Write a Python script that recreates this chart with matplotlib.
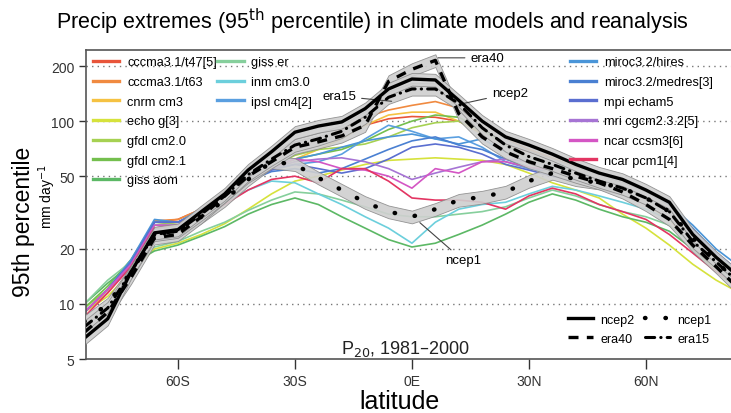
import numpy as np
import matplotlib
matplotlib.use("Agg")
import matplotlib.pyplot as plt
from matplotlib.lines import Line2D

plt.rcParams['font.family'] = ['Liberation Sans', 'DejaVu Sans']

# latitude grid (degrees, south negative)
lat = [-84, -78, -72, -66, -60, -54, -48, -42, -36, -30, -24, -18, -12, -6, 0,
       6, 12, 18, 24, 30, 36, 42, 48, 54, 60, 66, 72, 78, 84]

# reanalyses, 95th percentile precip (mm/day)
ncep2 = [6.5, 8.3, 15, 24.5, 25.5, 32, 40, 54, 68, 87, 94, 99, 117, 150, 170,
         168, 130, 100, 82, 74, 66, 58, 52, 48, 42, 36, 24, 18, 14]
ncep1 = [8, 10, 15, 24, 25, 30, 37, 48, 60, 58, 49, 42, 36, 32, 30,
         33, 37, 38.5, 41, 47, 52, 48, 46, 43, 38, 32, 23, 17, 13]
era40 = [7, 9, 14, 23, 24, 30, 39, 50, 60, 72, 77, 83, 95, 165, 192,
         215, 110, 82, 68, 60, 55, 50, 46, 41, 35, 29, 21, 16, 12]
era15 = [7.5, 9.5, 15, 24, 25, 31, 39, 51, 62, 74, 80, 88, 105, 135, 150,
         150, 125, 92, 74, 64, 58, 52, 47, 43, 38, 32, 22, 17, 13]

# models
cccma_t47 = [9, 12, 17, 28, 29, 33, 40, 50, 60, 70, 78, 85, 95, 103, 106,
             105, 100, 88, 75, 68, 62, 55, 48, 43, 38, 32, 23, 17, 13]
cccma_t63 = [9, 12, 17, 28.5, 29, 33, 41, 51, 61, 72, 80, 90, 105, 115, 122,
             128, 118, 95, 80, 70, 63, 56, 49, 44, 39, 33, 24, 18, 14]
cnrm = [9, 11.5, 16.5, 27, 28, 32, 38, 47, 56, 62, 70, 80, 95, 108, 112,
        112, 100, 85, 72, 62, 55, 50, 45, 40, 35, 29, 21, 15, 12]
echo_g = [9, 11, 15, 20, 21.5, 24, 27.5, 33, 40, 47, 50, 54, 58, 61, 62,
          63, 62, 61, 58, 52, 46, 42, 38, 31, 26, 21, 16.5, 13.5, 11.5]
gfdl20 = [9.5, 12, 17, 27, 28, 32, 38, 47, 56, 65, 70, 72, 75, 82, 92,
          98, 100, 88, 72, 62, 56, 51, 46, 41, 36, 31, 23, 17, 14]
gfdl21 = [9.5, 12.5, 17.5, 28, 28, 32, 38, 46, 55, 62, 66, 70, 78, 90, 100,
          108, 105, 90, 74, 64, 58, 52, 47, 42, 37, 32, 24, 18, 15]
giss_aom = [10, 13, 16.5, 19.5, 21, 23.5, 26.5, 31, 35, 38, 35, 30, 26, 22.5, 20.5,
            21.5, 24, 27, 31, 36, 40, 37, 33, 30, 28, 25, 20, 15, 12]
giss_er = [10, 13.5, 17, 20.5, 22, 25, 28, 32.5, 37, 41, 40, 37, 34, 31, 30,
           30, 31, 32, 34, 38, 42, 39, 35, 32, 30, 27, 21, 16, 13]
inm = [9, 12, 17, 27, 27, 31, 36, 42, 47, 46, 40, 35, 30, 26, 21.5,
       28, 33, 35, 36, 40, 44, 42, 39, 36, 33, 29, 23, 17, 14]
ipsl = [9, 12, 17, 28, 28, 32, 39, 47, 55, 58, 60, 66, 80, 95, 88,
        80, 82, 72, 60, 55, 52, 50, 46, 42, 38, 33, 25, 19, 15]
miroc_hi = [9, 12, 17.5, 29, 28, 33, 40, 49, 57, 62, 66, 72, 78, 82, 85,
            80, 75, 80, 68, 60, 56, 52, 48, 44, 40, 35, 27, 20, 16]
miroc_med = [9, 12, 17, 28, 28, 32, 39, 47, 53, 55, 52, 55, 62, 70, 78,
             82, 74, 70, 62, 56, 52, 49, 46, 42, 38, 34, 26, 19, 15]
mpi = [9, 12, 17, 28, 28, 32, 39, 47, 54, 58, 55, 52, 55, 62, 72,
       75, 72, 66, 58, 54, 50, 47, 44, 41, 37, 33, 25, 19, 15]
mri = [9, 12, 16, 26, 27, 31, 38, 46, 55, 60, 62, 63, 60, 55, 48,
       52, 56, 60, 62, 60, 55, 50, 45, 41, 37, 32, 24, 18, 14]
ccsm3 = [9, 12, 16.5, 27, 27, 31, 38, 47, 56, 62, 60, 55, 54, 50, 43,
         55, 52, 60, 60, 56, 54, 50, 46, 42, 37, 31, 23, 17, 14]
pcm1 = [8.5, 11.5, 16, 26, 27, 30, 35, 42, 48, 50, 46, 55, 55, 47, 38,
        37, 37, 36, 33, 39, 43, 40, 35, 32, 29, 24, 19, 15, 12.5]

models = [
    ("cccma3.1/t47[5]", cccma_t47, "#e8553a"),
    ("cccma3.1/t63", cccma_t63, "#f08a40"),
    ("cnrm cm3", cnrm, "#f5c242"),
    ("echo g[3]", echo_g, "#d6e23c"),
    ("gfdl cm2.0", gfdl20, "#a6d152"),
    ("gfdl cm2.1", gfdl21, "#74bf4e"),
    ("giss aom", giss_aom, "#5cb865"),
    ("giss er", giss_er, "#86cf9c"),
    ("inm cm3.0", inm, "#6ccfdc"),
    ("ipsl cm4[2]", ipsl, "#5a9fe0"),
    ("miroc3.2/hires", miroc_hi, "#4a95d8"),
    ("miroc3.2/medres[3]", miroc_med, "#4a80d2"),
    ("mpi echam5", mpi, "#5a6ed0"),
    ("mri cgcm2.3.2[5]", mri, "#a674d4"),
    ("ncar ccsm3[6]", ccsm3, "#d456c4"),
    ("ncar pcm1[4]", pcm1, "#e33562"),
]

fig = plt.figure(figsize=(7.31, 4.14), dpi=100)
ax = fig.add_axes([0.118, 0.1304, 0.8937, 0.7464])

for name, vals, col in models:
    ax.plot(lat, vals, color=col, lw=1.2, zorder=2)

# grey spread band around each reanalysis
for vals in (ncep1, era40, era15, ncep2):
    v = np.array(vals)
    ax.fill_between(lat, v * 0.92, v * 1.08, facecolor="#cfcfcf", edgecolor="#8a8a8a",
                    lw=0.6, alpha=0.9, zorder=3)

rea_styles = {
    "ncep2": dict(ls="-", lw=2.4),
    "era40": dict(ls=(0, (3, 2.5)), lw=2.4),
    "ncep1": dict(ls=(0, (0.1, 4.5)), lw=3.2, dash_capstyle="round"),
    "era15": dict(ls=(0, (3, 2, 0.1, 2)), lw=2.2, dash_capstyle="round"),
}
ax.plot(lat, ncep1, color="black", zorder=4, **rea_styles["ncep1"])
ax.plot(lat, era40, color="black", zorder=4, **rea_styles["era40"])
ax.plot(lat, era15, color="black", zorder=4, **rea_styles["era15"])
ax.plot(lat, ncep2, color="black", zorder=5, **rea_styles["ncep2"])

ax.set_yscale("log")
ax.set_xlim(-83.5, 84)
ax.set_ylim(5, 245)
ax.set_yticks([5, 10, 20, 50, 100, 200])
ax.set_yticklabels(["5", "10", "20", "50", "100", "200"])
ax.yaxis.set_minor_locator(matplotlib.ticker.NullLocator())
ax.set_xticks([-60, -30, 0, 30, 60])
ax.set_xticklabels(["60S", "30S", "0E", "30N", "60N"])
ax.tick_params(axis="both", direction="out", labelsize=10, colors="#333333",
               width=1.0, length=5)
ax.tick_params(axis="x", length=7, pad=4)
for s in ("left", "bottom", "top"):
    ax.spines[s].set_color("#555555")
    ax.spines[s].set_linewidth(1.2)
ax.spines["right"].set_visible(False)
for g in [10, 20, 50, 100, 200]:
    ax.axhline(g, color="#777777", lw=1.0, ls=(0, (1, 3)), zorder=1)

# model legends
h = [Line2D([], [], color=c, lw=2.4) for _, _, c in models]
labs = [m[0] for m in models]
leg_kw = dict(frameon=False, fontsize=9.2, handlelength=2.1, handletextpad=0.6,
              labelspacing=0.6, borderaxespad=0.1)
leg1 = ax.legend(h[:7], labs[:7], loc="upper left", bbox_to_anchor=(0.0, 1.0), **leg_kw)
ax.add_artist(leg1)
leg2 = ax.legend(h[7:10], labs[7:10], loc="upper left", bbox_to_anchor=(0.19, 1.0), **leg_kw)
ax.add_artist(leg2)
leg3 = ax.legend(h[10:], labs[10:], loc="upper left", bbox_to_anchor=(0.73, 1.0), **leg_kw)
ax.add_artist(leg3)

rh = [Line2D([], [], color="black", **rea_styles[k]) for k in ("ncep2", "era40", "ncep1", "era15")]
ax.legend(rh, ["ncep2", "era40", "ncep1", "era15"], ncol=2, loc="lower left",
          bbox_to_anchor=(0.72, 0.01), frameon=False, fontsize=9, handlelength=2.0,
          handletextpad=0.6, columnspacing=0.8, labelspacing=0.55)

ann = dict(arrowprops=dict(arrowstyle="-", color="#444444", lw=0.8), fontsize=9.5,
           va="center", ha="left")
ax.annotate("era40", xy=(6, 222), xytext=(15, 222), **ann)
ax.annotate("ncep2", xy=(12.5, 124), xytext=(20.5, 142), **ann)
ax.annotate("era15", xy=(-4.5, 128), xytext=(-23, 137), **ann)
ax.annotate("ncep1", xy=(1.5, 28.5), xytext=(8.5, 17.3), **ann)

ax.text(-1.5, 5.75, r"P$_{20}$, 1981–2000", fontsize=13, ha="center", va="center",
        color="#222222")

fig.text(0.51, 0.947, r"Precip extremes (95$^{\mathrm{th}}$ percentile) in climate models and reanalysis",
         ha="center", va="center", fontsize=15.5)
fig.text(0.032, 0.464, "95th percentile", rotation=90, ha="center", va="center",
         fontsize=16.5)
fig.text(0.065, 0.524, r"mm day$^{-1}$", rotation=90, ha="center", va="center",
         fontsize=10)
fig.text(0.547, 0.029, "latitude", ha="center", va="center", fontsize=18)

fig.savefig("out.png", dpi=100)
